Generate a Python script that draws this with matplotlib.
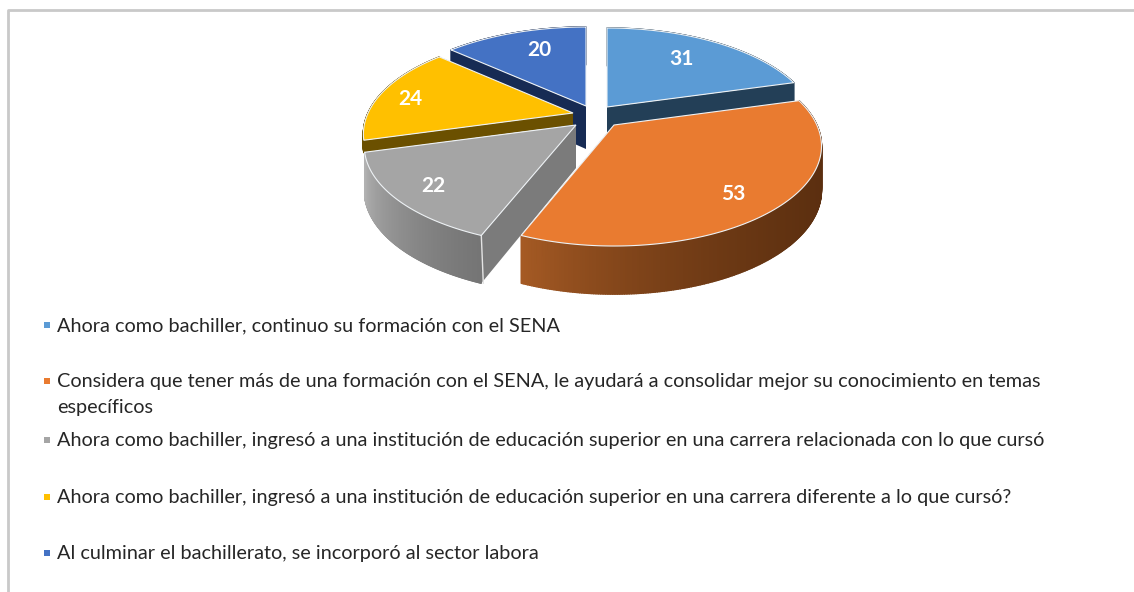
import numpy as np
import matplotlib
matplotlib.use("Agg")
import matplotlib.pyplot as plt
from matplotlib.collections import PolyCollection
from matplotlib.colors import to_rgb

values = [31, 53, 22, 24, 20]
labels = [
    "Ahora como bachiller, continuo su formación con el SENA",
    "Considera que tener más de una formación con el SENA, le ayudará a consolidar mejor su conocimiento en temas\nespecíficos",
    "Ahora como bachiller, ingresó a una institución de educación superior en una carrera relacionada con lo que cursó",
    "Ahora como bachiller, ingresó a una institución de educación superior en una carrera diferente a lo que cursó?",
    "Al culminar el bachillerato, se incorporó al sector labora",
]
top_colors = ["#5b9bd5", "#e97b30", "#a5a5a5", "#ffc000", "#4472c4"]
side_colors = ["#233f57", "#5e3010", "#7b7b7b", "#6b5000", "#172b54"]
arc_dark = ["#233f57", "#5a2e0f", "#757575", "#6b5000", "#172b54"]
arc_light = ["#233f57", "#a55a24", "#b2b2b2", "#6b5000", "#172b54"]
arc_power = [1, 3, 1.2, 1, 1]

# pixel positions of the exploded slices and of the legend rows
apex = [(607, 107), (614, 125), (576, 125), (573, 113), (586, 106)]
rx_scale = [0.99, 0.98, 1, 0.99, 1]
depth = [43, 43, 43, 12, 43]
label_r = [0.69, 0.81, 0.83, 0.83, 0.72]
label_turn = [-1, 3, -1, -3, 3]
legend_y = [325, 381, 440, 497, 553]

RX, RY, PERSP = 207, 95.6, 0.21
LINE_STEP = 26


def project(i, theta, r=1.0):
    # flat pie coordinates to screen pixels, near side drawn larger
    u = r * np.sin(theta)
    v = r * np.cos(theta)
    p = 1 / (1 + PERSP * v)
    return apex[i][0] + RX * rx_scale[i] * u * p, apex[i][1] - RY * v * p, v


def drop(i, v):
    return depth[i] * (1 - 0.12 * v)


def draw_slice(ax, i, start, end, order):
    theta = np.linspace(start, end, 240)
    x, y, v = project(i, theta)
    x0, y0 = apex[i]

    # side walls first, the top face hides whatever is behind it
    for xe, ye, ve in [(x[0], y[0], v[0]), (x[-1], y[-1], v[-1])]:
        ax.fill([x0, xe, xe, x0], [y0, ye, ye + drop(i, ve), y0 + depth[i]],
                color=side_colors[i], lw=0, zorder=order)
    dark = np.array(to_rgb(arc_dark[i]))
    light = np.array(to_rgb(arc_light[i]))
    quads = []
    cols = []
    for k in range(len(theta) - 1):
        quads.append([(x[k], y[k]), (x[k + 1], y[k + 1]),
                      (x[k + 1], y[k + 1] + drop(i, v[k + 1])), (x[k], y[k] + drop(i, v[k]))])
        t = k / (len(theta) - 2)
        cols.append(dark + (light - dark) * t ** arc_power[i])
    ax.add_collection(PolyCollection(quads, facecolors=cols, edgecolors=cols,
                                     linewidths=1, zorder=order))
    if i == 2:
        # light seam on the near corner of the grey slice
        ax.plot([x[0], x[0] + 2], [y[0], y[0] + drop(i, v[0])], color="#e4e4e4", lw=1,
                zorder=order + 0.2)
    ax.fill(np.r_[x0, x], np.r_[y0, y], facecolor=top_colors[i], edgecolor="#eef2f5",
            lw=0.8, zorder=order + 0.5)


def main():
    plt.rcParams["font.family"] = ["Lato", "DejaVu Sans"]
    fig = plt.figure(figsize=(11.34, 5.92), dpi=100)
    ax = fig.add_axes([0, 0, 1, 1])
    ax.set_xlim(0, 1134)
    ax.set_ylim(592, 0)
    ax.axis("off")

    # frame of the original chart box
    ax.plot([8, 8, 1134], [592, 10, 10], color="#c9c9c9", lw=2, zorder=1)

    # paint from the back of the pie to the front
    paint_order = [3, 6, 5, 4, 2]
    angles = np.r_[0, np.cumsum(values)] / np.sum(values) * 2 * np.pi
    for i, val in enumerate(values):
        draw_slice(ax, i, angles[i], angles[i + 1], paint_order[i])
        mid = (angles[i] + angles[i + 1]) / 2 + np.radians(label_turn[i])
        tx, ty, _ = project(i, mid, label_r[i])
        ax.text(tx, ty, str(val), color="white", fontsize=15, fontweight="bold",
                ha="center", va="center", zorder=10)

    for i, text in enumerate(labels):
        ax.plot([46.5], [legend_y[i]], marker="s", ms=4.4, color=top_colors[i], mew=0)
        for n, line in enumerate(text.split("\n")):
            ax.text(57, legend_y[i] + 6 + n * LINE_STEP, line, fontsize=14.33, color="#262626",
                    ha="left", va="baseline")

    fig.savefig("out.png", dpi=100)


if __name__ == "__main__":
    main()
